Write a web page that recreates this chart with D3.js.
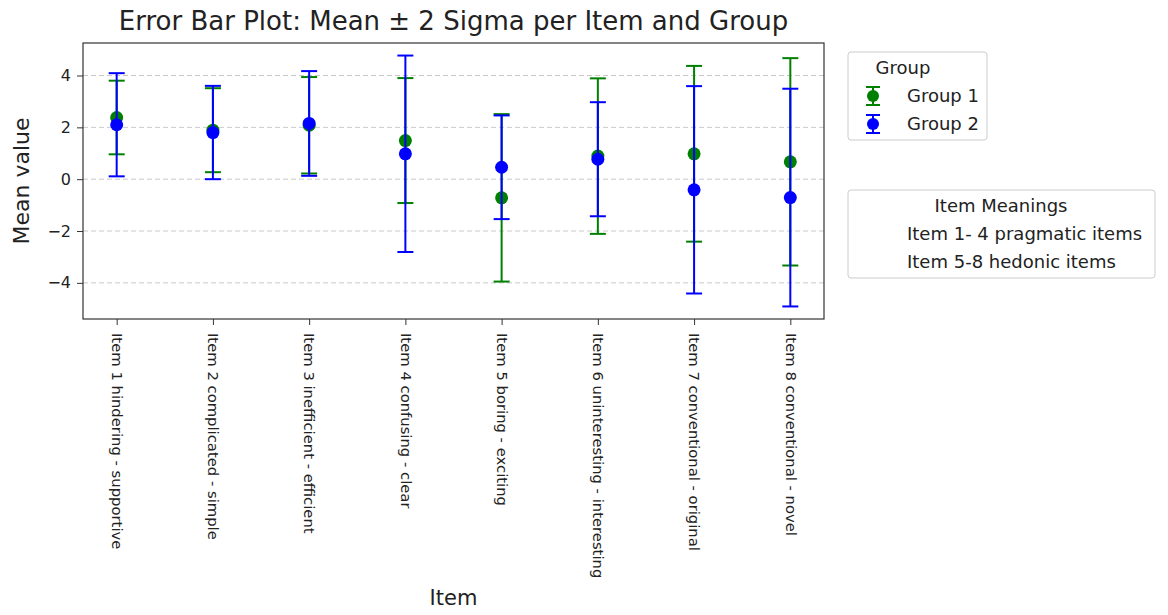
<!DOCTYPE html>
<html>
<head>
<meta charset="utf-8">
<script src="https://cdn.jsdelivr.net/npm/d3@7"></script>
<style>
  html, body { margin: 0; padding: 0; background: #fff; }
  svg { display: block; font-family: "DejaVu Sans", sans-serif; }
</style>
</head>
<body>
<svg id="chart" width="1168" height="615"></svg>
<script>
// Item labels (x categories)
const items = [
  "Item 1 hindering - supportive",
  "Item 2 complicated - simple",
  "Item 3 inefficient - efficient",
  "Item 4 confusing - clear",
  "Item 5 boring - exciting",
  "Item 6 uninteresting - interesting",
  "Item 7 conventional - original",
  "Item 8 conventional - novel"
];

// Group means and 2-sigma half widths per item
const group1Mean = [2.38, 1.89, 2.08, 1.49, -0.72, 0.89, 0.98, 0.67];
const group1Err  = [1.42, 1.62, 1.86, 2.41, 3.23, 3.00, 3.39, 4.00];
const group2Mean = [2.10, 1.80, 2.15, 0.98, 0.46, 0.77, -0.41, -0.71];
const group2Err  = [1.99, 1.80, 2.02, 3.79, 2.00, 2.20, 4.00, 4.20];

const yTicks = [-4, -2, 0, 2, 4];
const groupNames = ["Group 1", "Group 2"];
const groupColors = ["green", "blue"];
const meaningTitle = "Item Meanings";
const meaningLines = ["Item 1- 4 pragmatic items", "Item 5-8 hedonic items"];

const series = [
  { name: groupNames[0], color: groupColors[0], mean: group1Mean, err: group1Err },
  { name: groupNames[1], color: groupColors[1], mean: group2Mean, err: group2Err }
];

const FONT = "DejaVu Sans, sans-serif";
const svg = d3.select("#chart");
const plot = { left: 83, top: 43, right: 824, bottom: 319 };

// x: index positions with 5% padding on each side
const n = items.length;
const xPad = (n - 1) * 0.05;
const x = d3.scaleLinear().domain([-xPad, n - 1 + xPad]).range([plot.left, plot.right]);

// y: data extent including error bars, padded by 5%
const lows = series.flatMap(s => s.mean.map((m, i) => m - s.err[i]));
const highs = series.flatMap(s => s.mean.map((m, i) => m + s.err[i]));
const yMin = d3.min(lows), yMax = d3.max(highs);
const yPad = (yMax - yMin) * 0.05;
const y = d3.scaleLinear().domain([yMin - yPad, yMax + yPad]).range([plot.bottom, plot.top]);

// horizontal dashed grid
svg.append("g")
  .selectAll("line")
  .data(yTicks)
  .join("line")
  .attr("x1", plot.left).attr("x2", plot.right)
  .attr("y1", d => y(d)).attr("y2", d => y(d))
  .attr("stroke", "#b0b0b0").attr("stroke-opacity", 0.7)
  .attr("stroke-width", 1).attr("stroke-dasharray", "5,3");

// error bars and markers
const capHalf = 8;
series.forEach(s => {
  const g = svg.append("g");
  s.mean.forEach((m, i) => {
    const cx = x(i);
    const lo = y(m - s.err[i]), hi = y(m + s.err[i]);
    g.append("line").attr("x1", cx).attr("x2", cx).attr("y1", lo).attr("y2", hi)
      .attr("stroke", s.color).attr("stroke-width", 2);
    [lo, hi].forEach(cy => g.append("line")
      .attr("x1", cx - capHalf).attr("x2", cx + capHalf).attr("y1", cy).attr("y2", cy)
      .attr("stroke", s.color).attr("stroke-width", 2));
    g.append("circle").attr("cx", cx).attr("cy", y(m)).attr("r", 6.5).attr("fill", s.color);
  });
});

// axes
const xAxis = d3.axisBottom(x).tickValues(d3.range(n)).tickFormat(i => items[i]).tickSizeOuter(0).tickSize(6);
const gx = svg.append("g").attr("transform", `translate(0,${plot.bottom})`).call(xAxis)
  .attr("font-family", FONT);
gx.select(".domain").remove();
gx.selectAll(".tick line").attr("stroke", "#333");
gx.selectAll(".tick text")
  .attr("font-size", 14.8).attr("fill", "#222")
  .attr("transform", "rotate(90)")
  .attr("text-anchor", "start")
  .attr("x", 14).attr("y", 0).attr("dy", "0.35em");

const yAxis = d3.axisLeft(y).tickValues(yTicks).tickFormat(d => d < 0 ? "\u2212" + Math.abs(d) : d).tickSizeOuter(0).tickSize(6);
const gy = svg.append("g").attr("transform", `translate(${plot.left},0)`).call(yAxis)
  .attr("font-family", FONT);
gy.select(".domain").remove();
gy.selectAll(".tick line").attr("stroke", "#333");
gy.selectAll(".tick text").attr("font-size", 16).attr("fill", "#222").attr("x", -12);

// frame
svg.append("rect")
  .attr("x", plot.left).attr("y", plot.top)
  .attr("width", plot.right - plot.left).attr("height", plot.bottom - plot.top)
  .attr("fill", "none").attr("stroke", "#333").attr("stroke-width", 1.2);

// titles
svg.append("text").attr("x", (plot.left + plot.right) / 2).attr("y", 30)
  .attr("text-anchor", "middle").attr("font-size", 26).attr("fill", "#222")
  .text("Error Bar Plot: Mean \u00b1 2 Sigma per Item and Group");
svg.append("text").attr("transform", `translate(29,${(plot.top + plot.bottom) / 2}) rotate(-90)`)
  .attr("text-anchor", "middle").attr("font-size", 22).attr("fill", "#222")
  .text("Mean value");
svg.append("text").attr("x", (plot.left + plot.right) / 2).attr("y", 605)
  .attr("text-anchor", "middle").attr("font-size", 21).attr("fill", "#222")
  .text("Item");

// group legend
const lg = svg.append("g");
lg.append("rect").attr("x", 848).attr("y", 52).attr("width", 139).attr("height", 88).attr("rx", 3)
  .attr("fill", "#fff").attr("stroke", "#ccc");
lg.append("text").attr("x", 903).attr("y", 74).attr("text-anchor", "middle")
  .attr("font-size", 18).attr("fill", "#222").text("Group");
series.forEach((s, k) => {
  const cy = 96 + k * 28;
  const hx = 873;
  lg.append("line").attr("x1", hx).attr("x2", hx).attr("y1", cy - 9).attr("y2", cy + 9)
    .attr("stroke", s.color).attr("stroke-width", 2);
  [cy - 9, cy + 9].forEach(v => lg.append("line").attr("x1", hx - 7).attr("x2", hx + 7)
    .attr("y1", v).attr("y2", v).attr("stroke", s.color).attr("stroke-width", 2));
  lg.append("circle").attr("cx", hx).attr("cy", cy).attr("r", 6).attr("fill", s.color);
  lg.append("text").attr("x", 907).attr("y", cy).attr("dy", "0.35em")
    .attr("font-size", 18).attr("fill", "#222").text(s.name);
});

// item meaning legend
const mg = svg.append("g");
mg.append("rect").attr("x", 848).attr("y", 190).attr("width", 307).attr("height", 88).attr("rx", 3)
  .attr("fill", "#fff").attr("stroke", "#ccc");
mg.append("text").attr("x", 1001).attr("y", 212).attr("text-anchor", "middle")
  .attr("font-size", 18).attr("fill", "#222").text(meaningTitle);
meaningLines.forEach((t, k) => {
  mg.append("text").attr("x", 907).attr("y", 234 + k * 28).attr("dy", "0.35em")
    .attr("font-size", 18).attr("fill", "#222").text(t);
});
</script>
</body>
</html>
